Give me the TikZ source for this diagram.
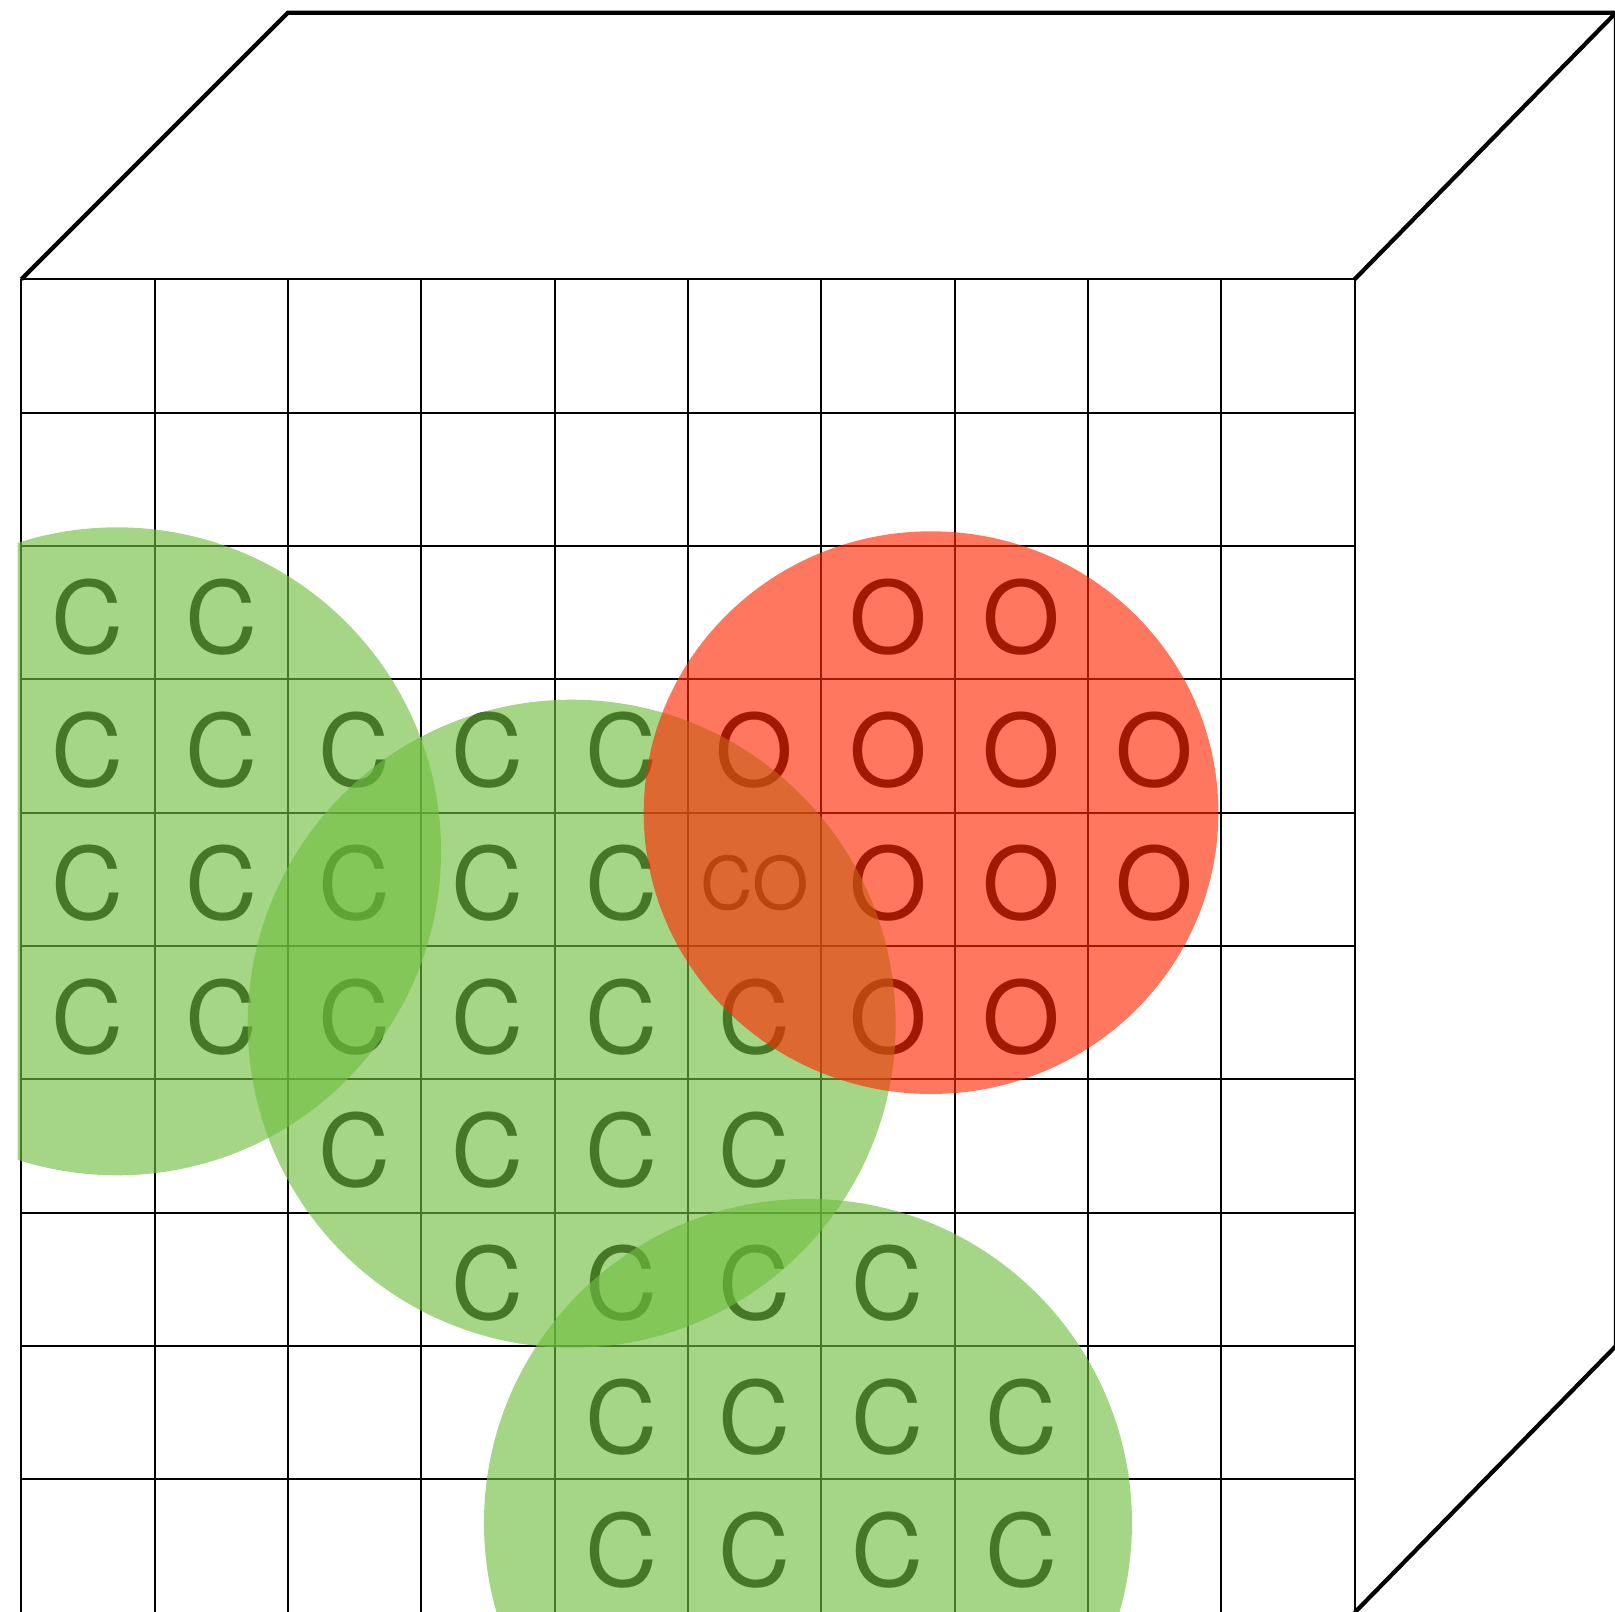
\documentclass[tikz,border=0pt]{standalone}
\usepackage{fontspec}
\newfontfamily\cellfont{TeX Gyre Heros}
\definecolor{carbongreen}{RGB}{111,190,63}
\definecolor{oxygenred}{RGB}{255,40,0}

\begin{document}
\begin{tikzpicture}[
    gridline/.style={line width=0.45pt},
    edge/.style={line width=0.9pt},
    atom/.style={inner sep=0pt, font=\cellfont\fontsize{21.3}{24}\selectfont},
    smallatom/.style={inner sep=0pt, font=\cellfont\fontsize{15.5}{18}\selectfont},
    cblob/.style={fill=carbongreen, fill opacity=0.63},
    oblob/.style={fill=oxygenred, fill opacity=0.63}]
  % bounding box
  \useasboundingbox (-0.16,-9.988) rectangle (11.953,2.095);
  % Front face
  \draw[gridline] (0,-10) grid (10,0);
  % Carbon cells
  \node[atom] (c20) at (0.5,-2.53) {C};
  \node[atom] (c21) at (1.5,-2.53) {C};
  \node[atom] (c30) at (0.5,-3.53) {C};
  \node[atom] (c31) at (1.5,-3.53) {C};
  \node[atom] (c32) at (2.5,-3.53) {C};
  \node[atom] (c33) at (3.5,-3.53) {C};
  \node[atom] (c34) at (4.5,-3.53) {C};
  \node[atom] (c40) at (0.5,-4.53) {C};
  \node[atom] (c41) at (1.5,-4.53) {C};
  \node[atom] (c42) at (2.5,-4.53) {C};
  \node[atom] (c43) at (3.5,-4.53) {C};
  \node[atom] (c44) at (4.5,-4.53) {C};
  \node[atom] (c50) at (0.5,-5.53) {C};
  \node[atom] (c51) at (1.5,-5.53) {C};
  \node[atom] (c52) at (2.5,-5.53) {C};
  \node[atom] (c53) at (3.5,-5.53) {C};
  \node[atom] (c54) at (4.5,-5.53) {C};
  \node[atom] (c55) at (5.5,-5.53) {C};
  \node[atom] (c62) at (2.5,-6.53) {C};
  \node[atom] (c63) at (3.5,-6.53) {C};
  \node[atom] (c64) at (4.5,-6.53) {C};
  \node[atom] (c65) at (5.5,-6.53) {C};
  \node[atom] (c73) at (3.5,-7.53) {C};
  \node[atom] (c74) at (4.5,-7.53) {C};
  \node[atom] (c75) at (5.5,-7.53) {C};
  \node[atom] (c76) at (6.5,-7.53) {C};
  \node[atom] (c84) at (4.5,-8.53) {C};
  \node[atom] (c85) at (5.5,-8.53) {C};
  \node[atom] (c86) at (6.5,-8.53) {C};
  \node[atom] (c87) at (7.5,-8.53) {C};
  \node[atom] (c94) at (4.5,-9.53) {C};
  \node[atom] (c95) at (5.5,-9.53) {C};
  \node[atom] (c96) at (6.5,-9.53) {C};
  \node[atom] (c97) at (7.5,-9.53) {C};
  % Oxygen cells
  \node[atom] (o26) at (6.5,-2.53) {O};
  \node[atom] (o27) at (7.5,-2.53) {O};
  \node[atom] (o35) at (5.5,-3.53) {O};
  \node[atom] (o36) at (6.5,-3.53) {O};
  \node[atom] (o37) at (7.5,-3.53) {O};
  \node[atom] (o38) at (8.5,-3.53) {O};
  \node[smallatom] (co45) at (5.5,-4.53) {CO};
  \node[atom] (o46) at (6.5,-4.53) {O};
  \node[atom] (o47) at (7.5,-4.53) {O};
  \node[atom] (o48) at (8.5,-4.53) {O};
  \node[atom] (o56) at (6.5,-5.53) {O};
  \node[atom] (o57) at (7.5,-5.53) {O};
  % Clouds
  \begin{scope}
    \clip (-0.027,-10.2) rectangle (12.2,2.2);
    \fill[cblob] (0.718,-4.29) circle (2.43);
    \fill[cblob] (4.128,-5.583) circle (2.43);
    \fill[cblob] (5.9,-9.327) circle (2.43);
    \fill[oblob] (6.823,-4.0) ellipse (2.155 and 2.11);
  \end{scope}
  % Top and side faces
  \draw[edge] (0,0) -- (2,2) -- (11.96,2) -- (10,0);
  \draw[edge] (11.96,2) -- (11.96,-8) -- (10,-10);
\end{tikzpicture}
\end{document}
